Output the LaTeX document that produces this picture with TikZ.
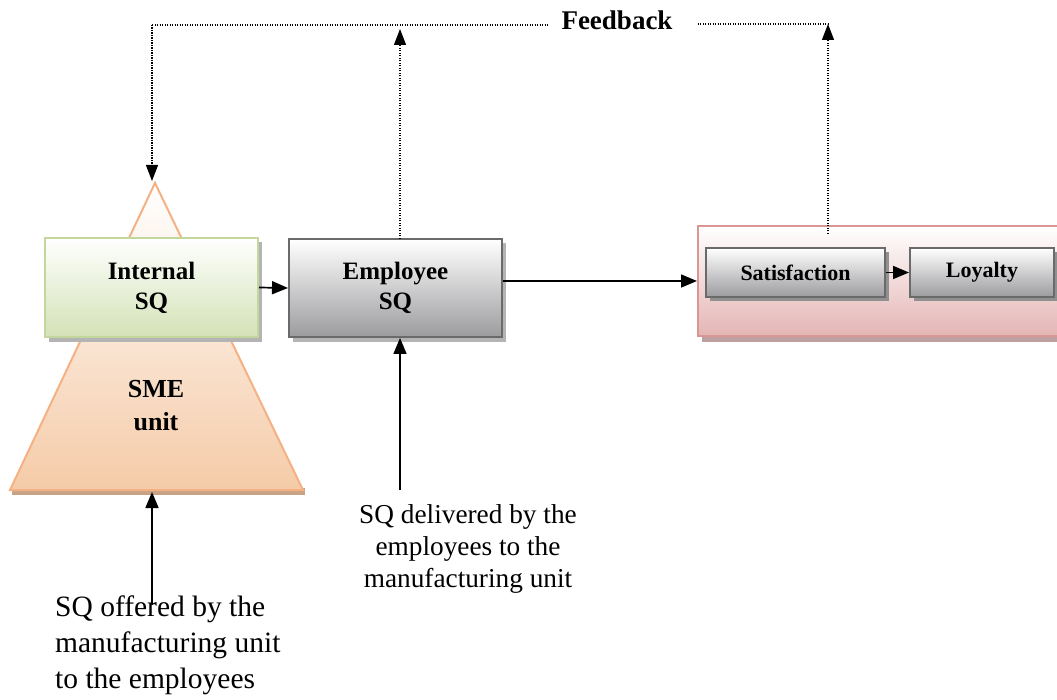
\documentclass[tikz,border=0pt]{standalone}
\usepackage{fontspec}
\setmainfont{Liberation Serif}
\usetikzlibrary{arrows.meta}
\definecolor{triedge}{HTML}{F4B183}
\definecolor{trifill}{HTML}{F5CBA8}
\definecolor{trishadow}{HTML}{C9A385}
\definecolor{grnedge}{HTML}{C3D69B}
\definecolor{grnfill}{HTML}{D3E2B6}
\definecolor{gryedge}{HTML}{6A6A6A}
\definecolor{gryfill}{HTML}{9C9C9E}
\definecolor{pnkedge}{HTML}{D99694}
\definecolor{pnkfill}{HTML}{E4B5B4}
\definecolor{pnkshadow}{HTML}{BFA0A0}
\definecolor{boxshadow}{HTML}{B4B4B4}
\tikzset{
  x=1pt, y=-1pt,
  lbl/.style={font=\fontsize{25}{30}\selectfont\bfseries, align=center},
  smalllbl/.style={font=\fontsize{22}{26}\selectfont\bfseries, align=center},
  gradbox/.style={inner sep=0pt, line width=2pt, shading=axis, shading angle=0},
  greenbox/.style={gradbox, draw=grnedge, top color=white, bottom color=grnfill},
  greybox/.style={gradbox, draw=gryedge, top color=white, bottom color=gryfill},
  pinkbox/.style={gradbox, draw=pnkedge, top color=white, bottom color=pnkfill},
  conn/.style={line width=1.7pt, -{Triangle[length=16pt,width=13pt]}},
  fb/.style={line width=1.3pt, dash pattern=on 1.2pt off 1.3pt},
  fbarrow/.style={fb, -{Triangle[length=16pt,width=12pt]}},
  note/.style={font=\fontsize{27.3}{32}\selectfont, align=center},
}
\begin{document}
\begin{tikzpicture}
\useasboundingbox (0,0) rectangle (1057,700);
\clip (0,0) rectangle (1057,700);

% SME pyramid behind the internal box
\fill[trishadow] (12,488) -- (305,488) -- (305,495) -- (12,495) -- cycle;
\shade[top color=white, bottom color=trifill, draw=triedge, line width=2pt]
  (155,183) -- (303,490) -- (10,490) -- cycle;
\coordinate (apex) at (152,181);
\coordinate (base) at (152,492);
\node[font=\fontsize{26}{33}\selectfont\bfseries, align=center] (sme) at (156,406) {SME\\unit};

% shadows of the boxes
\fill[boxshadow] (49,242) rectangle (262,342);
\fill[boxshadow] (293,243) rectangle (506,342);
\fill[pnkshadow] (702,230) rectangle (1070,342);

% boxes
\node[greenbox, minimum width=213pt, minimum height=99pt] (intsq) at (151.5,287.5) {};
\node[lbl] at (intsq) {Internal\\SQ};
\node[greybox, minimum width=213pt, minimum height=98pt] (empsq) at (395.5,288) {};
\node[lbl] at (empsq) {Employee\\SQ};
\node[pinkbox, minimum width=372pt, minimum height=110pt] (outer) at (884,281) {};

\fill[boxshadow!80!black] (710,252) rectangle (889,301);
\fill[boxshadow!80!black] (914,252) rectangle (1058,301);
\node[greybox, minimum width=179pt, minimum height=49pt] (sat) at (795.5,272.5) {};
\node[smalllbl] at (sat) {Satisfaction};
\node[greybox, minimum width=144pt, minimum height=49pt] (loy) at (982,272.5) {};
\node[smalllbl] at (loy) {Loyalty};

% forward flow
\draw[conn] (intsq.east) -- (empsq.west);
\draw[conn] (empsq.east |- 0,281) -- (outer.west |- 0,281);
\draw[conn] (sat.east) -- (loy.west);

% feedback loop
\node[font=\fontsize{27}{32}\selectfont\bfseries, inner sep=0pt] (feedback) at (617,20) {Feedback};
\coordinate (fbL) at (152,25);
\coordinate (fbR) at (828,24);
\coordinate (empup) at (400,239);
\coordinate (emptop) at (400,29);
\coordinate (outup) at (828,234);
\draw[fb] (fbL) -- ([xshift=-14pt]feedback.west |- fbL);
\draw[fb] ([xshift=25pt]feedback.east |- fbR) -- (fbR);
\draw[fbarrow] (fbL) -- (apex);
\draw[fbarrow] (empup) -- (emptop);
\draw[fbarrow] (outup) -- (fbR);

% inputs from below
\node[note, font=\fontsize{29.5}{36}\selectfont, align=left, anchor=north west, inner sep=0pt] (offered) at (55,596)
  {SQ offered by the\\manufacturing unit\\to the employees};
\coordinate (offtop) at (152,605);
\draw[conn] (offtop) -- (base);
\node[note, anchor=north, inner sep=0pt] (delivered) at (468,504)
  {SQ delivered by the\\employees to the\\manufacturing unit};
\coordinate (deltop) at (400,490);
\draw[conn] (deltop) -- (empsq.south -| deltop);
\end{tikzpicture}
\end{document}
